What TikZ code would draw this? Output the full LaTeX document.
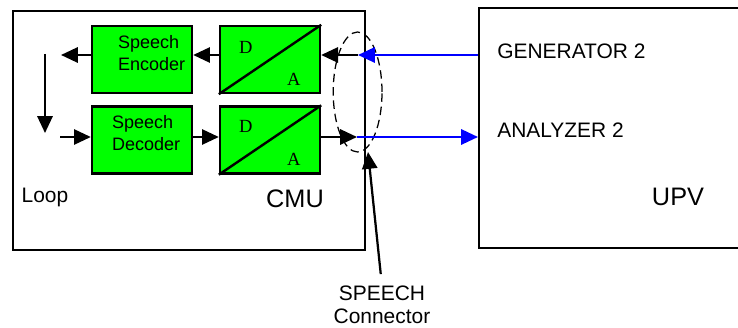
\documentclass[tikz,border=0pt]{standalone}
\usepackage{fontspec}
\setmainfont{Liberation Sans}
\newfontfamily\dafont{Liberation Serif}
\usetikzlibrary{arrows.meta,positioning,shapes.geometric}
\definecolor{codecgreen}{RGB}{0,255,0}
\definecolor{linkblue}{RGB}{0,0,255}

\begin{document}
\begin{tikzpicture}[
  frame/.style={draw, line width=1.5pt, anchor=north west, inner sep=0pt},
  codec/.style={draw, line width=1.7pt, fill=codecgreen, minimum width=2.5cm, minimum height=1.675cm, inner sep=0pt},
  codectext/.style={anchor=base west, inner sep=0pt, align=left, font=\fontsize{12.8}{15.6}\selectfont},
  dalabel/.style={anchor=base, inner sep=0pt, font=\dafont\fontsize{13.2}{14}\selectfont},
  lbl/.style={inner sep=0pt, font=\fontsize{14.9}{16.4}\selectfont},
  biglbl/.style={anchor=base, inner sep=0pt, font=\fontsize{18}{20}\selectfont},
  arrow/.style={-{Triangle[length=4.2mm, width=3.8mm]}, line width=1.6pt}
]
\useasboundingbox (0,0) rectangle (18.45,8.2);

% the two instruments
\node[frame, minimum width=8.8cm, minimum height=5.975cm] (cmu) at (0.3, 7.95) {};
\node[frame, minimum width=6.6cm, minimum height=6cm] (upv) at (11.95, 8.025) {};

% codec chain
\node[codec] (enc) at (3.55, 6.7125) {};
\node[codec] (adtop) at (6.75, 6.7125) {};
\node[codec] (dec) at (3.55, 4.7) {};
\node[codec] (adbot) at (6.75, 4.7) {};

\node[codectext] (enctext) at ([shift={(0.675,-1.15)}]enc.north west) {Speech\\Encoder};
\node[codectext] (dectext) at ([shift={(0.525,-1.125)}]dec.north west) {Speech\\Decoder};

\draw[line width=1.7pt] (adtop.south west) -- (adtop.north east);
\draw[line width=1.7pt] (adbot.south west) -- (adbot.north east);
\node[dalabel] (dtop) at ([shift={(0.675,-0.72)}]adtop.north west) {D};
\node[dalabel] (atop) at ([shift={(1.875,-1.52)}]adtop.north west) {A};
\node[dalabel] (dbot) at ([shift={(0.675,-0.68)}]adbot.north west) {D};
\node[dalabel] (abot) at ([shift={(1.875,-1.5)}]adbot.north west) {A};

% labels
\node[biglbl, font=\fontsize{14.9}{16.4}\selectfont] (loop) at (1.125, 3.125) {Loop};
\node[biglbl] (cmulbl) at (7.375, 3.0) {CMU};
\node[biglbl] (upvlbl) at (16.95, 3.05) {UPV};
\node[lbl, anchor=base west] (gen) at (12.425, 6.725) {GENERATOR 2};
\node[lbl, anchor=base west] (ana) at (12.425, 4.75) {ANALYZER 2};
\node[lbl, anchor=base, align=center] (spcon) at (9.55, 0.1) {SPEECH\\Connector};

% connector plug
\node[draw, ellipse, line width=0.9pt, dash pattern=on 6pt off 3.5pt, minimum width=1.22cm, minimum height=3cm, inner sep=0pt] (plug) at (8.94, 5.9) {};

\coordinate (toprow) at (0, 6.825);
\coordinate (botrow) at (0, 4.775);
\coordinate (gaptop) at (8.95, 6.825);
\coordinate (gapbot) at (8.925, 4.775);
\coordinate (encout) at (1.525, 6.825);
\coordinate (decin) at (1.5, 4.775);
\coordinate (looptop) at (1.125, 6.85);
\coordinate (loopbot) at (1.125, 4.875);
\coordinate (plugtip) at (9.2, 4.4);

\draw[arrow, linkblue] (upv.west |- toprow) -- (gaptop);
\draw[arrow] (gaptop) -- (adtop.east |- toprow);
\draw[arrow] (adtop.west |- toprow) -- (enc.east |- toprow);
\draw[arrow] (enc.west |- toprow) -- (encout);
\draw[arrow] (looptop) -- (loopbot);
\draw[arrow] (decin) -- (dec.west |- botrow);
\draw[arrow] (dec.east |- botrow) -- (adbot.west |- botrow);
\draw[arrow] (adbot.east |- botrow) -- (gapbot);
\draw[arrow, linkblue] (gapbot) -- (upv.west |- botrow);
\draw[arrow, shorten <=0.3cm] (spcon.north) -- (plugtip);
\end{tikzpicture}
\end{document}
